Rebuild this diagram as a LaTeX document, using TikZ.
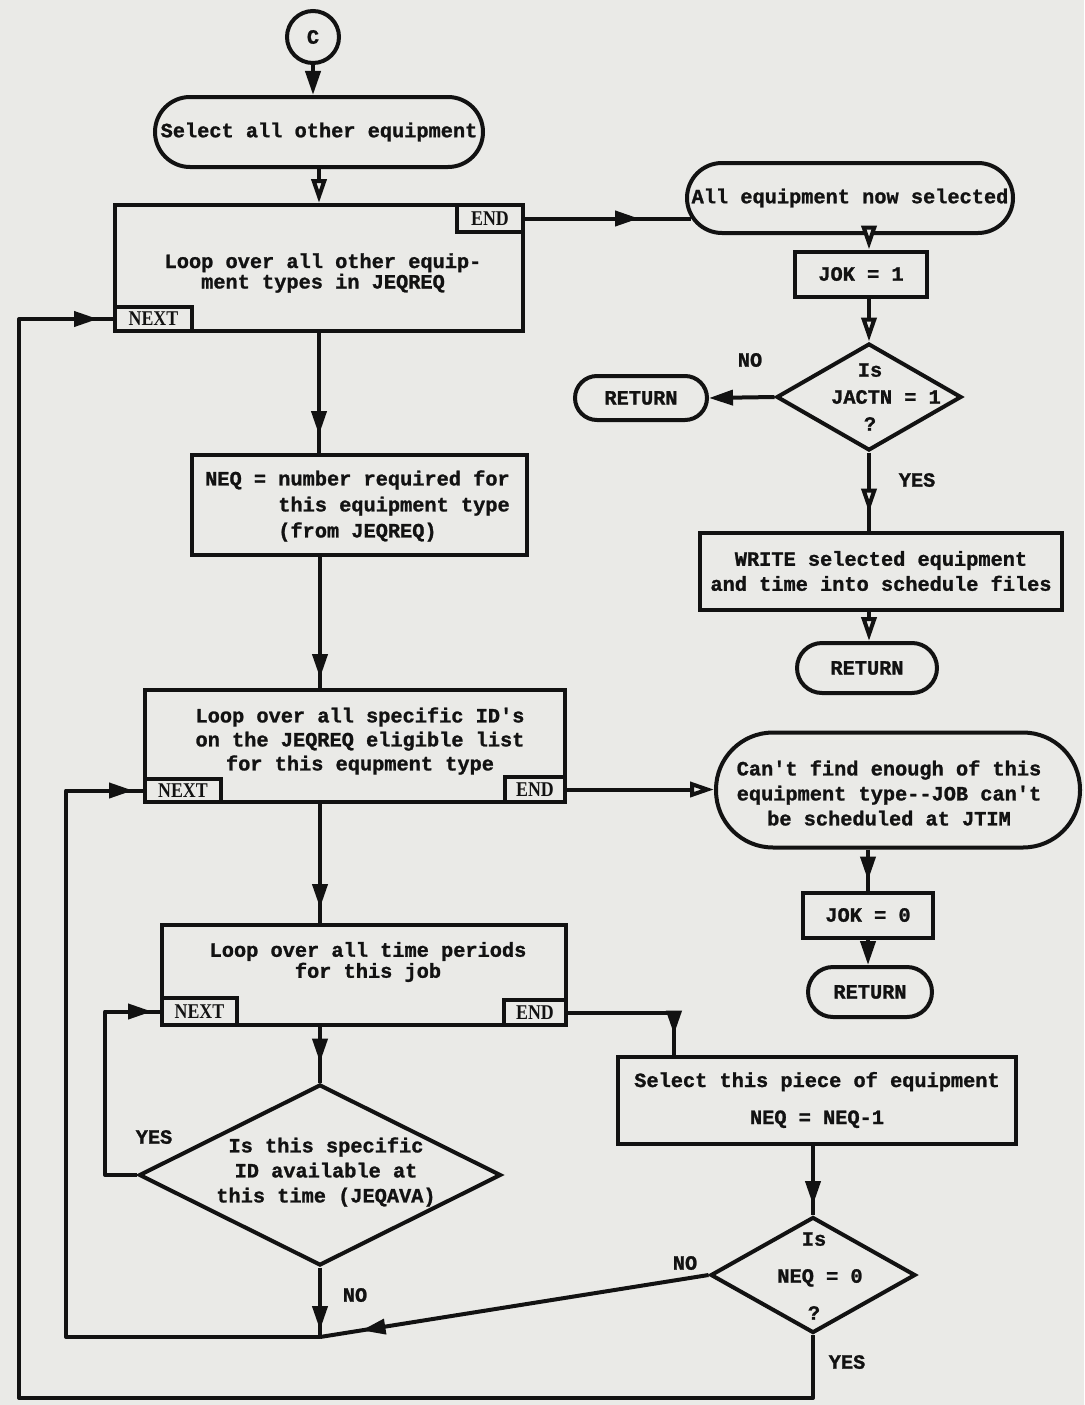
\documentclass[tikz,border=0pt]{standalone}
\usepackage{fontspec}
\setmonofont{Liberation Mono}[BoldFeatures={FakeBold=1.2}]
\newfontfamily\tabfont[FakeStretch=0.85]{Liberation Serif}
\usetikzlibrary{arrows.meta,decorations.markings,shapes.geometric,calc}
\definecolor{paper}{RGB}{234,234,231}
\definecolor{ink}{RGB}{18,18,18}
\tikzset{
  ln/.style={draw=ink, line width=4pt, line join=round},
  fat/.style={postaction={decorate}, decoration={markings, mark=at position #1 with {\arrow{Triangle[length=24pt,width=15pt]}}}},
  opn/.style={postaction={decorate}, decoration={markings, mark=at position #1 with {\arrow{Triangle[length=24pt,width=15pt,fill=paper]}}}},
  fatend/.style={-{Triangle[length=24pt,width=15pt]}},
  opnend/.style={-{Triangle[length=24pt,width=15pt,fill=paper]}},
  tx/.style={font=\ttfamily\bfseries\fontsize{20.3}{24.5}\selectfont, text=ink, inner sep=0pt, align=center},
  bx/.style={draw=ink, line width=4pt, inner sep=0pt},
  term/.style={bx, tx, rounded corners=#1},
  tab/.style={bx, inner sep=0pt, font=\tabfont\bfseries\fontsize{21}{24}\selectfont, text=ink},
  dia/.style={bx, diamond, line join=miter},
}
\newcommand{\fs}[1]{\ttfamily\bfseries\fontsize{20.3}{#1}\selectfont}
\begin{document}
\begin{tikzpicture}[x=1pt,y=-1pt]
\fill[paper] (0,0) rectangle (1084,1405);
\useasboundingbox (0,0) rectangle (1084,1405);

% ---------- left column ----------
\node[bx, circle, minimum size=52pt, tx] (c) at (313,37) {C};
\node[term=35pt, minimum width=328pt, minimum height=70pt] (sel) at (319,132) {Select all other equipment};

\node[bx, minimum width=408pt, minimum height=126pt] (loop1) at (319,268) {};
\node[tx, font=\fs{20.5}] (loop1t) at (323,273) {Loop over all other equip-\\ment types in JEQREQ};
\node[tab, minimum width=66pt, minimum height=27pt, anchor=north east] (end1) at (loop1.north east) {END};
\node[tab, minimum width=77pt, minimum height=24pt, anchor=south west] (next1) at (loop1.south west) {NEXT};

\node[bx, minimum width=335pt, minimum height=100pt] (neq) at (359.5,505) {};
\node[tx, font=\fs{26}, align=left, anchor=west] (neqt) at (205,506) {NEQ = number required for\\\phantom{NEQ = }this equipment type\\\phantom{NEQ = }(from JEQREQ)};

\node[bx, minimum width=420pt, minimum height=112pt] (loop2) at (355,746) {};
\node[tx, font=\fs{24}] (loop2t) at (360,741) {Loop over all specific ID's\\on the JEQREQ eligible list\\for this equpment type};
\node[tab, minimum width=60pt, minimum height=25pt, anchor=south east] (end2) at (loop2.south east) {END};
\node[tab, minimum width=76pt, minimum height=23pt, anchor=south west] (next2) at (loop2.south west) {NEXT};

\node[bx, minimum width=404pt, minimum height=100pt] (loop3) at (364,975) {};
\node[tx, font=\fs{21}] (loop3t) at (368,962) {Loop over all time periods\\for this job};
\node[tab, minimum width=62pt, minimum height=25pt, anchor=south east] (end3) at (loop3.south east) {END};
\node[tab, minimum width=75pt, minimum height=27pt, anchor=south west] (next3) at (loop3.south west) {NEXT};

\node[dia, minimum width=362pt, minimum height=181pt] (d1) at (320,1175) {};
\node[tx, font=\fs{25}] (d1t) at (326,1172) {Is this specific\\ID available at\\this time (JEQAVA)};

% ---------- right column ----------
\node[term=35pt, minimum width=326pt, minimum height=70pt] (all) at (850,198) {All equipment now selected};
\node[bx, tx, minimum width=132pt, minimum height=45pt] (jok1) at (861,274) {JOK = 1};
\node[dia, minimum width=185pt, minimum height=107pt] (d2) at (869,397) {};
\node[tx, font=\fs{27}] (d2t) at (870,397) {Is\\\hspace*{32pt}JACTN = 1\\?};
\node[term=22pt, minimum width=132pt, minimum height=44pt] (ret1) at (641,398) {RETURN};
\node[bx, tx, font=\fs{25}, minimum width=362pt, minimum height=77pt] (write) at (881,571) {WRITE selected equipment\\and time into schedule files};
\node[term=25pt, minimum width=140pt, minimum height=50pt] (ret3) at (867,668) {RETURN};

\node[term=57pt, minimum width=364pt, minimum height=115pt] (cant) at (898,790) {};
\node[tx, font=\fs{25}] (cantt) at (889,793) {Can't find enough of this\\equipment type--JOB can't\\be scheduled at JTIM};
\node[bx, tx, minimum width=130pt, minimum height=45pt] (jok0) at (868,915) {JOK = 0};
\node[term=25pt, minimum width=124pt, minimum height=50pt] (ret2) at (870,992) {RETURN};

\node[bx, tx, font=\fs{37}, minimum width=398pt, minimum height=87pt] (piece) at (817,1100) {Select this piece of equipment\\NEQ = NEQ-1};
\node[dia, minimum width=205pt, minimum height=116pt] (d3) at (813,1275) {};
\node[tx, font=\fs{37}] (d3t) at (814,1276) {Is\\\hspace*{12pt}NEQ = 0\\?};

% ---------- labels ----------
\node[tx] (lno2) at (750,360) {NO};
\node[tx] (lyes2) at (917,480) {YES};
\node[tx] (lyes1) at (154,1137) {YES};
\node[tx] (lno1) at (355,1295) {NO};
\node[tx] (lno3) at (685,1263) {NO};
\node[tx] (lyes3) at (847,1362) {YES};

% ---------- helper coordinates ----------
\coordinate (jn) at (320,1337);
\coordinate (bl2) at (66,1337);
\coordinate (bl) at (19,1398);
\coordinate (bl3) at (105,1175);

% ---------- connectors: left column ----------
\draw[ln, fatend] (c.south) -- (c.south |- sel.north);
\draw[ln, opnend] (sel.south) -- (loop1.north -| sel.south);
\draw[ln, fat=-18pt] (loop1.south -| sel.south) -- (neq.north -| sel.south);
\draw[ln, fat=-10pt] (neq.south -| d1.north) -- (loop2.north -| d1.north);
\draw[ln, fat=-15pt] (loop2.south -| d1.north) -- (loop3.north -| d1.north);
\draw[ln, fat=-20pt] (loop3.south -| d1.north) -- (d1.north);

\draw[ln, fat=-8pt] (d1.west) -- (bl3) |- (next3.west);
\draw[ln, fat=-7pt] (d1.south) -- (jn);
\draw[ln, fat=-10pt] (jn) -- (bl2) |- (next2.west);
\draw[ln, fat=-42pt] (d3.west) -- (jn);
\draw[ln, fat=-15pt] (d3.south) |- (bl) |- (next1.west);

% ---------- connectors: loop exits ----------
\draw[ln, fat=-52pt] (end1.east) -- ([xshift=6pt]end1.east -| all.west);
\draw[ln, opnend] (end2.east) -- (end2.east -| cant.west);
\draw[ln, fat=-20pt] (end3.east) -| ([xshift=58pt]piece.north west);

% ---------- connectors: right column ----------
\draw[ln, opnend] (all.south -| d2.north) -- (jok1.north -| d2.north);
\draw[ln, opnend] (jok1.south -| d2.north) -- (d2.north);
\draw[ln, fatend] (d2.west) -- (ret1.east);
\draw[ln, opn=-18pt] (d2.south) -- (d2.south |- write.north);
\draw[ln, opnend] (write.south -| d2.south) -- (ret3.north -| d2.south);
\draw[ln, fat=-10pt] (cant.south -| jok0.north) -- (jok0.north);
\draw[ln, fatend] (jok0.south) -- (jok0.south |- ret2.north);
\draw[ln, fat=-10pt] (piece.south -| d3.north) -- (d3.north);
\end{tikzpicture}
\end{document}
